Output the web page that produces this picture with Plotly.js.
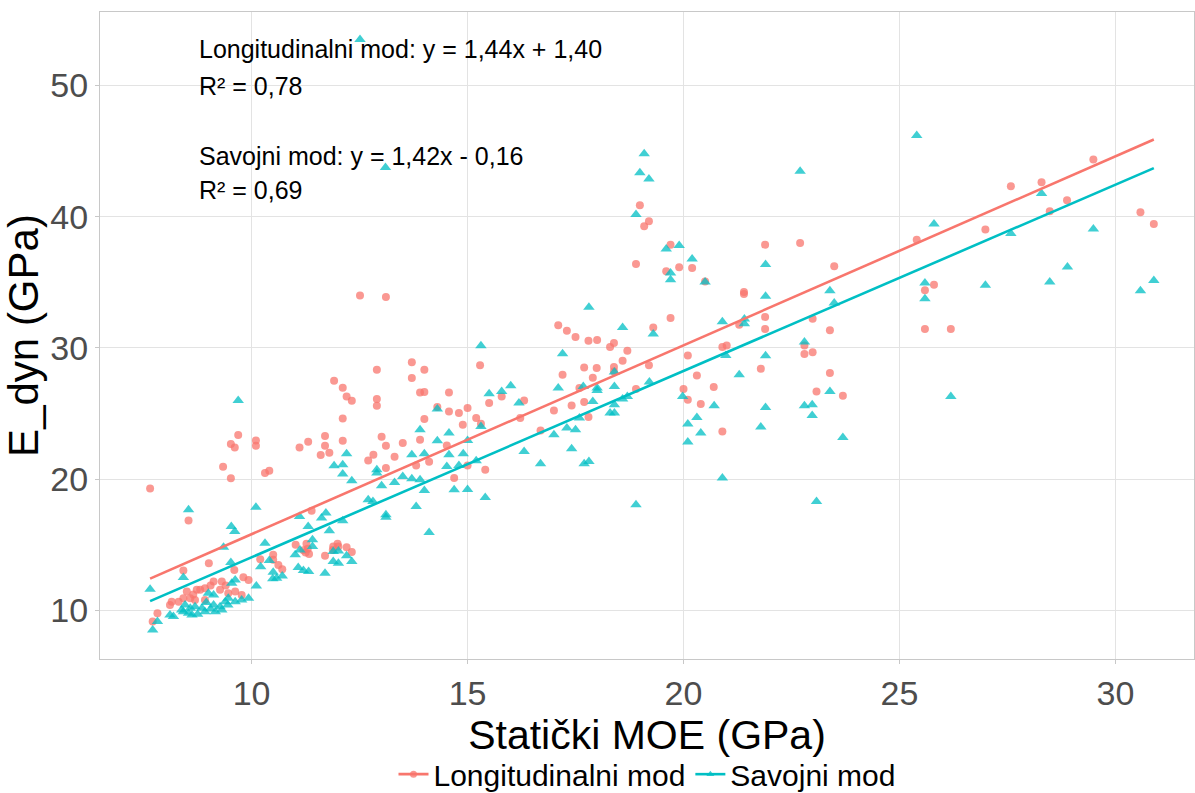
<!DOCTYPE html>
<html>
<head>
<meta charset="utf-8">
<script src="https://cdn.plot.ly/plotly-3.0.1.min.js"></script>
<style>
  html, body { margin: 0; padding: 0; background: #ffffff; }
  #chart { width: 1195px; height: 793px; }
</style>
</head>
<body>
<div id="chart"></div>
<script>
// Series names
const seriesNames = ['Longitudinalni mod', 'Savojni mod'];

// Longitudinal mode: static MOE (x) vs dynamic modulus (y), GPa
const longX = [
  7.65, 8.54, 9.69, 9.52, 9.61, 9.34, 9.52, 10.1, 10.1, 10.31, 10.41, 9.01, 8.42, 7.82, 7.71,
  9.6, 9.81, 9.93, 9.12, 9.31, 8.92, 8.81, 8.73, 8.5, 8.15, 8.31, 8.11, 8.42, 8.58, 8.69, 8.92,
  9.27, 9.46, 9.62, 9.77, 9.05, 8.65, 9.4,
  12.51, 13.11, 13.71, 13.71, 14.0, 13.9, 14.0, 12.9, 12.9, 12.9, 11.91, 12.11, 12.2, 12.32,
  12.11, 11.7, 11.7, 12.11, 11.11, 11.31, 11.6, 11.8, 12.7, 12.82, 13.01, 13.11, 13.31, 13.5,
  13.11, 13.9, 14.0, 14.3, 14.52, 14.57, 14.57, 13.81, 14.11, 11.39, 11.02, 11.27, 11.3, 11.2,
  11.33, 11.25, 11.7, 11.89, 11.99, 12.01, 11.88, 12.2, 12.32, 10.2, 10.5, 10.5, 10.62, 10.71,
  18.9, 17.1, 17.3, 17.5, 17.8, 18.0, 18.3, 18.39, 18.7, 18.59, 17.7, 17.99, 17.2, 17.9, 18.39,
  18.39, 15.29, 14.8, 15.0, 14.89, 15.2, 15.31, 15.5, 15.79, 16.31, 16.22, 17.0, 17.41, 17.7,
  17.8, 17.59, 16.69, 15.0, 15.41, 14.69, 18.9,
  18.99, 19.09, 19.2, 19.6, 19.7, 19.9, 20.2, 20.5, 21.89, 22.7, 21.4, 21.4, 19.7, 19.3, 21.29,
  21.89, 21.89, 22.99, 22.8, 22.8, 22.99, 20.9, 21.0, 20.1, 20.31, 20.7, 20.0, 20.1, 20.4, 20.9,
  21.79, 19.2, 23.08,
  29.49, 27.58, 28.29, 28.88, 28.48, 26.99, 25.4, 30.58, 30.89, 23.49, 25.59, 25.8, 25.59, 26.19,
  23.39, 23.39, 23.69
];
const longY = [
  19.28, 16.84, 23.36, 22.67, 22.41, 20.94, 20.07, 22.94, 22.54, 20.46, 20.63, 13.59, 13.03, 9.78, 9.14,
  13.08, 12.52, 12.32, 12.19, 12.19, 11.69, 11.56, 11.56, 11.43, 10.66, 10.66, 10.41, 10.92, 10.92, 10.79, 10.79,
  11.56, 11.3, 11.43, 11.17, 11.9, 11.2, 11.9,
  34.0, 33.88, 28.9, 27.7, 28.34, 26.6, 26.64, 28.34, 26.1, 25.6, 27.5, 26.96, 26.3, 25.97,
  24.62, 23.28, 22.54, 22.92, 22.41, 22.85, 21.83, 22.0, 21.42, 21.85, 23.23, 22.54, 21.7, 22.75,
  20.84, 23.0, 24.58, 25.5, 22.56, 26.6, 25.16, 21.04, 21.32, 17.58, 15.0, 15.07, 14.7, 14.57,
  14.3, 14.4, 14.15, 14.86, 15.07, 14.86, 14.6, 14.81, 14.45, 13.9, 14.23, 13.85, 13.46, 13.13,
  36.4, 31.72, 31.31, 30.83, 30.55, 30.6, 30.07, 30.37, 29.79, 29.02, 28.51, 28.47, 27.96, 27.73, 28.54,
  28.2, 28.67, 25.03, 25.42, 24.14, 24.65, 24.22, 25.8, 26.3, 26.0, 24.65, 25.23, 25.61, 25.87,
  24.73, 26.94, 23.71, 21.04, 20.71, 20.08, 26.86,
  40.87, 39.27, 39.65, 35.84, 37.87, 36.14, 36.09, 35.07, 37.87, 38.0, 34.26, 34.1, 32.28, 31.56, 31.77,
  32.36, 31.44, 32.23, 30.19, 29.53, 29.66, 30.07, 30.19, 29.43, 27.9, 27.02, 26.87, 26.05, 25.72, 23.63,
  28.41, 28.67, 26.68,
  44.36, 42.32, 42.63, 41.25, 40.41, 39.02, 38.25, 40.34, 39.45, 36.22, 34.39, 34.82, 31.44, 31.44,
  31.34, 28.08, 26.35
];

// Bending mode: static MOE (x) vs dynamic modulus (y), GPa
const savX = [
  9.69, 8.54, 10.1, 9.53, 9.61, 9.35, 10.31, 7.65, 8.42, 9.52, 7.71, 7.82, 10.21, 10.41, 10.11,
  9.62, 9.54, 9.0, 9.12, 9.46, 9.62, 9.77, 9.93, 9.39, 8.11, 8.19, 8.42, 8.54, 8.62, 8.69, 8.85,
  8.92, 9.12, 9.16, 9.27, 9.31, 8.46, 8.58, 8.38, 8.75, 9.05, 9.45, 8.95,
  10.5, 10.58, 10.49, 10.71, 11.11, 11.31, 11.62, 11.72, 11.8, 11.41, 11.41, 11.01, 11.12, 11.08,
  11.2, 11.32, 11.7, 11.89, 12.01, 11.89, 12.01, 12.2, 12.32, 12.11, 11.91, 12.11, 12.11, 12.2,
  12.32, 12.7, 12.81, 12.9, 12.9, 13.01, 13.11, 13.11, 13.31, 13.5, 13.71, 13.71, 14.0, 13.9,
  14.0, 13.81, 13.9, 14.11, 14.3, 14.3, 14.57, 14.52, 14.57,
  17.81, 18.59, 15.31, 17.2, 17.1, 15.5, 15.79, 16.0, 16.19, 17.68, 18.0, 18.0, 18.4, 18.4, 17.9,
  18.59, 18.7, 18.3, 18.4, 18.4, 17.59, 17.3, 17.5, 17.0, 17.41, 17.7, 17.81, 16.69, 16.31, 15.31,
  15.0, 14.9, 14.8, 15.2, 14.69, 15.0, 15.41, 18.9,
  19.09, 18.99, 19.2, 18.9, 19.6, 19.9, 19.7, 19.7, 20.2, 20.5, 22.7, 21.9, 21.9, 21.41, 21.41,
  20.9, 19.3, 22.8, 20.98, 21.9, 19.21, 19.98, 21.29, 20.1, 20.31, 20.1, 20.4, 20.71, 20.9, 21.9,
  21.79, 22.8, 22.98, 22.98, 23.08,
  25.4, 28.29, 25.8, 27.58, 29.49, 28.89, 28.48, 26.99, 25.59, 25.59, 30.58, 30.89, 23.39, 23.49,
  23.39, 26.19, 23.69,
  12.51, 13.1
];
const savY = [
  26.0, 17.66, 17.86, 16.38, 16.0, 14.81, 15.12, 11.61, 12.5, 13.64, 8.5, 9.14, 13.33, 13.79, 11.86,
  12.32, 12.07, 11.3, 11.17, 10.92, 10.66, 10.79, 10.92, 10.66, 9.65, 9.52, 9.9, 9.78, 9.65, 10.28, 10.16,
  9.9, 10.41, 9.9, 10.28, 10.03, 10.41, 10.16, 10.03, 9.7, 10.1, 10.4, 10.6,
  12.9, 12.45, 12.4, 12.62, 17.15, 16.39, 17.03, 17.41, 16.06, 15.37, 14.86, 14.23, 14.6, 13.26,
  13.03, 12.95, 12.83, 13.72, 13.59, 14.48, 14.53, 14.15, 13.72, 16.82, 21.01, 21.09, 20.38, 21.93,
  19.87, 18.42, 18.29, 20.71, 20.46, 19.49, 17.28, 17.1, 19.74, 20.2, 20.02, 21.85, 21.93, 19.95,
  19.13, 17.91, 23.76, 15.93, 25.34, 22.92, 23.51, 20.96, 21.85,
  33.09, 31.56, 30.17, 29.56, 26.94, 26.5, 26.68, 27.12, 25.8, 27.06, 26.94, 26.76, 27.06, 28.16, 25.92,
  26.1, 26.3, 25.03, 25.03, 25.67, 24.65, 23.89, 23.76, 23.38, 22.31, 21.17, 21.34, 21.17, 22.11, 24.01,
  22.94, 21.93, 21.04, 21.4, 19.18, 19.2, 18.6, 18.04,
  44.79, 43.34, 42.88, 40.16, 37.54, 37.8, 35.71, 35.2, 36.78, 35.03, 43.46, 36.35, 33.93, 32.2, 31.85,
  32.0, 31.06, 30.45, 29.43, 29.4, 27.4, 26.3, 27.96, 24.2, 24.7, 22.82, 23.51, 25.59, 20.08, 25.46,
  23.97, 25.59, 25.67, 24.85, 18.29,
  46.19, 41.76, 39.45, 38.71, 39.07, 36.17, 35.03, 34.77, 34.95, 33.75, 34.36, 35.13, 34.36, 33.43,
  26.68, 26.3, 23.17,
  53.5, 43.74
];

// Fitted regression coefficients and R² per series
const slopes = [1.44, 1.42];
const intercepts = [1.40, -0.16];
const rSquared = [0.78, 0.69];

const colors = ['#F8766D', '#00BFC4'];
const symbols = ['circle', 'triangle-up'];
const FONT = '"Liberation Sans", Arial, sans-serif';

const xs = [longX, savX];
const ys = [longY, savY];

const traces = [];
// scatter points
for (let i = 0; i < 2; i++) {
  traces.push({
    type: 'scatter', mode: 'markers', name: seriesNames[i], showlegend: false,
    x: xs[i], y: ys[i],
    marker: { color: colors[i], symbol: symbols[i], size: i === 0 ? 8 : 10, opacity: 0.75,
              line: { width: 0 } },
    hoverinfo: 'x+y'
  });
}
// regression lines across each series' x-span
for (let i = 0; i < 2; i++) {
  const x0 = Math.min(...xs[i]);
  const x1 = Math.max(...xs[i]);
  traces.push({
    type: 'scatter', mode: 'lines', showlegend: false, name: seriesNames[i],
    x: [x0, x1],
    y: [slopes[i] * x0 + intercepts[i], slopes[i] * x1 + intercepts[i]],
    line: { color: colors[i], width: 2.6 },
    hoverinfo: 'skip'
  });
}
// legend keys (line + marker)
for (let i = 0; i < 2; i++) {
  traces.push({
    type: 'scatter', mode: 'lines+markers', name: seriesNames[i], showlegend: true,
    x: [null], y: [null],
    line: { color: colors[i], width: 2.6 },
    marker: { color: colors[i], symbol: symbols[i], size: 7, opacity: 0.75 }
  });
}

const fmt = v => Math.abs(v).toFixed(2).replace('.', ',');
const eqText = i => seriesNames[i] + ': y = ' + fmt(slopes[i]) + 'x ' +
  (intercepts[i] < 0 ? '- ' : '+ ') + fmt(intercepts[i]);
const r2Text = i => 'R² = ' + fmt(rSquared[i]);

const annFont = { family: FONT, size: 25, color: '#000000' };
const annX = 8.74;
const annotations = [
  { text: eqText(0), y: 52.75 },
  { text: r2Text(0), y: 49.93 },
  { text: eqText(1), y: 44.59 },
  { text: r2Text(1), y: 42.07 }
].map(a => ({
  x: annX, y: a.y, xref: 'x', yref: 'y', text: a.text, showarrow: false,
  xanchor: 'left', yanchor: 'middle', font: annFont
}));

const axisCommon = {
  showgrid: true, gridcolor: '#e3e3e3', gridwidth: 1,
  zeroline: false, automargin: false,
  showline: true, mirror: true, linecolor: '#c8c8c8', linewidth: 1,
  ticks: 'outside', ticklen: 4, tickcolor: '#c8c8c8', tickwidth: 1,
  tickfont: { family: FONT, size: 34, color: '#4d4d4d' }
};

const layout = {
  width: 1195, height: 793,
  margin: { l: 100, r: 1, t: 12, b: 134, autoexpand: false },
  paper_bgcolor: '#ffffff', plot_bgcolor: '#ffffff',
  xaxis: Object.assign({}, axisCommon, {
    range: [6.49, 31.82], tickvals: [10, 15, 20, 25, 30],
    title: { text: 'Statički MOE (GPa)', font: { family: FONT, size: 41, color: '#000000' }, standoff: 8 }
  }),
  yaxis: Object.assign({}, axisCommon, {
    range: [6.29, 55.6], tickvals: [10, 20, 30, 40, 50],
    title: { text: 'E_dyn (GPa)', font: { family: FONT, size: 42, color: '#000000' }, standoff: 10 }
  }),
  legend: {
    orientation: 'h', x: 0.5, xanchor: 'center', y: -0.178, yanchor: 'middle',
    font: { family: FONT, size: 30, color: '#000000' },
    itemwidth: 30, tracegroupgap: 0
  },
  annotations: annotations,
  showlegend: true
};

Plotly.newPlot('chart', traces, layout, { displayModeBar: false, staticPlot: true });
</script>
</body>
</html>
